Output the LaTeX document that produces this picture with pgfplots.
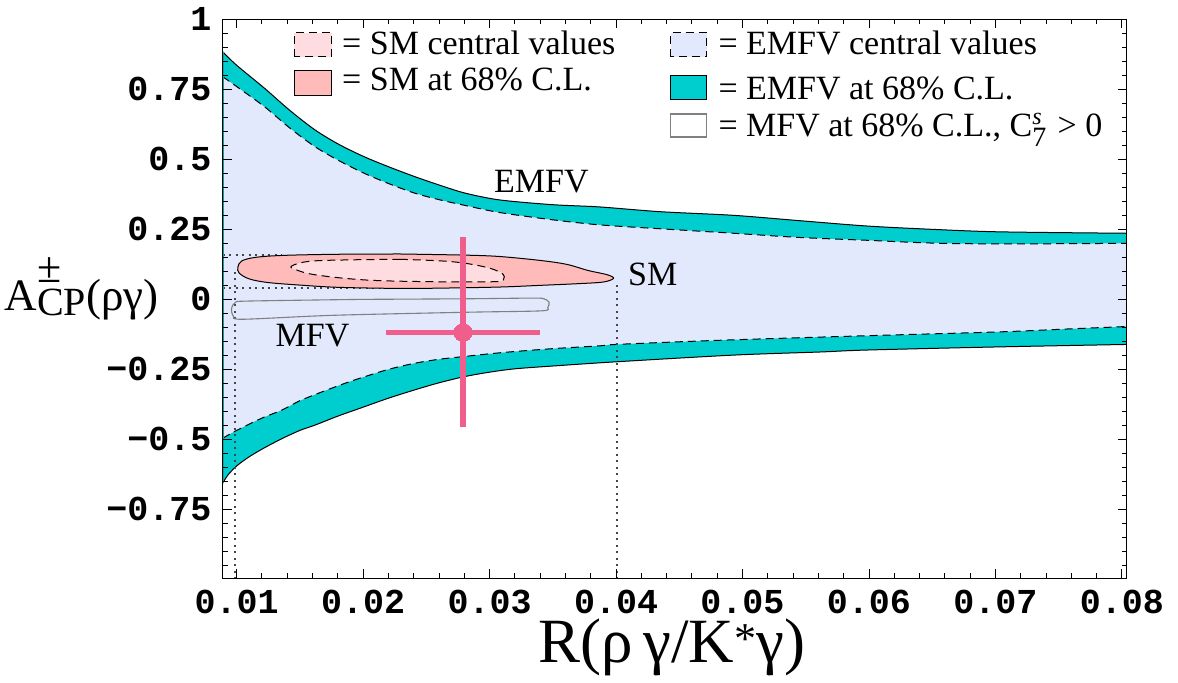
\documentclass[border=0pt]{standalone}
\usepackage{fontspec}
\setmainfont{Liberation Serif}
\newfontfamily\tickfont{Liberation Mono}
\usepackage{pgfplots}
\pgfplotsset{compat=1.18}
\usepgfplotslibrary{fillbetween}
\definecolor{emfvblue}{RGB}{227,233,252}
\definecolor{emfvteal}{RGB}{0,206,206}
\definecolor{edgeteal}{RGB}{0,165,165}
\definecolor{smpink}{RGB}{255,186,186}
\definecolor{smlight}{RGB}{255,220,223}
\definecolor{ptpink}{RGB}{240,94,140}
\definecolor{dotgray}{RGB}{70,70,70}
\newcommand\lf{\fontsize{34bp}{40bp}\selectfont}
\tikzset{mydash/.style={dash pattern=on 8bp off 5bp}, mydot/.style={dotgray, line width=2bp, dash pattern=on 2bp off 4.5bp}}
\begin{document}
\begin{tikzpicture}
\begin{axis}[
  width=904bp, height=559bp, scale only axis,
  at={(0,0)}, anchor=south west,
  xmin=0.0089, xmax=0.08038, ymin=-0.996, ymax=1,
  scaled x ticks=false, scaled y ticks=false,
  xtick={0.01,0.02,0.03,0.04,0.05,0.06,0.07,0.08},
  xticklabels={0.01,0.02,0.03,0.04,0.05,0.06,0.07,0.08},
  minor xtick={0.012,0.014,0.016,0.018,0.022,0.024,0.026,0.028,0.032,0.034,0.036,0.038,0.042,0.044,0.046,0.048,0.052,0.054,0.056,0.058,0.062,0.064,0.066,0.068,0.072,0.074,0.076,0.078},
  ytick={-0.75,-0.5,-0.25,0,0.25,0.5,0.75,1},
  yticklabels={−0.75,−0.5,−0.25,0,0.25,0.5,0.75,1},
  minor ytick={-0.95,-0.9,-0.85,-0.8,-0.7,-0.65,-0.6,-0.55,-0.45,-0.4,-0.35,-0.3,-0.2,-0.15,-0.1,-0.05,0.05,0.1,0.15,0.2,0.3,0.35,0.4,0.45,0.55,0.6,0.65,0.7,0.8,0.85,0.9,0.95},
  tick align=inside,
  major tick length=9bp, minor tick length=5bp,
  every tick/.style={black, line width=0.9bp},
  axis line style={line width=1.1bp, black},
  axis on top,
  xticklabel style={font=\tickfont\bfseries\fontsize{35bp}{40bp}\selectfont, inner sep=0pt, yshift=-12bp},
  yticklabel style={font=\tickfont\bfseries\fontsize{35bp}{40bp}\selectfont, inner sep=0pt, xshift=-11bp},
  xlabel={R(ρ\,γ/K\textsuperscript{*}γ)},
  xlabel style={font=\fontsize{63bp}{68bp}\selectfont, at={(axis description cs:0.497,-0.123)}, anchor=center},
  ylabel={A\rlap{\raisebox{28bp}{\fontsize{44bp}{44bp}\selectfont ±}}\raisebox{-5bp}{\fontsize{40bp}{40bp}\selectfont CP}(ργ)},
  ylabel style={rotate=-90, font=\fontsize{45bp}{50bp}\selectfont, at={(axis description cs:-0.156,0.518)}, anchor=center},
]
% upper solid (EMFV 68% outer)
\addplot[name path=US, black, line width=1bp, smooth] coordinates {
(0.0089,0.884) (0.0100,0.836) (0.0122,0.754) (0.0142,0.675) (0.0162,0.605)
(0.0181,0.553) (0.0201,0.509) (0.0221,0.472) (0.0241,0.438) (0.0261,0.407)
(0.0281,0.379) (0.0308,0.355) (0.0350,0.338) (0.0387,0.330) (0.0435,0.313)
(0.0493,0.300) (0.0545,0.281) (0.0598,0.262) (0.0650,0.250) (0.0704,0.241) (0.08038,0.236)};
% upper dashed (EMFV central)
\addplot[name path=UD, black, line width=1bp, mydash, smooth] coordinates {
(0.0089,0.795) (0.0100,0.760) (0.0122,0.688) (0.0142,0.612) (0.0162,0.545)
(0.0181,0.495) (0.0201,0.450) (0.0221,0.412) (0.0241,0.379) (0.0261,0.355)
(0.0281,0.335) (0.0308,0.310) (0.0350,0.284) (0.0387,0.266) (0.0435,0.252)
(0.0493,0.236) (0.0545,0.221) (0.0598,0.211) (0.0650,0.201) (0.0704,0.198) (0.08038,0.200)};
% lower dashed (EMFV central)
\addplot[name path=LD, black, line width=1bp, mydash, smooth] coordinates {
(0.0089,-0.496) (0.0100,-0.468) (0.0120,-0.424) (0.0136,-0.395) (0.0150,-0.362)
(0.0170,-0.326) (0.0188,-0.296) (0.0200,-0.278) (0.0220,-0.250) (0.0241,-0.228)
(0.0260,-0.214) (0.0280,-0.204) (0.0310,-0.190) (0.0350,-0.176) (0.0387,-0.166)
(0.0400,-0.161) (0.0470,-0.148) (0.0545,-0.137) (0.0620,-0.127) (0.0704,-0.116)
(0.0761,-0.105) (0.08038,-0.097)};
% lower solid (EMFV 68% outer)
\addplot[name path=LS, black, line width=1bp, smooth] coordinates {
(0.0089,-0.657) (0.0093,-0.628) (0.0100,-0.595) (0.0110,-0.562) (0.0122,-0.530)
(0.0136,-0.497) (0.0150,-0.468) (0.0162,-0.449) (0.0180,-0.417) (0.0200,-0.385)
(0.0220,-0.353) (0.0241,-0.323) (0.0260,-0.298) (0.0280,-0.276) (0.0300,-0.260)
(0.0320,-0.248) (0.0350,-0.238) (0.0400,-0.223) (0.0493,-0.199) (0.0561,-0.188)
(0.0598,-0.181) (0.0700,-0.170) (0.08038,-0.161)};
\addplot[emfvblue] fill between[of=UD and LD];
\addplot[emfvteal] fill between[of=US and UD];
\addplot[emfvteal] fill between[of=LD and LS];
% dotted projection lines
\addplot[mydot] coordinates {(0.0099,-1) (0.0099,0.11)};
\addplot[mydot] coordinates {(0.0401,-1) (0.0401,0.058)};
\addplot[mydot] coordinates {(0.0089,0.159) (0.0136,0.159)};
\addplot[mydot] coordinates {(0.0089,0.041) (0.0226,0.041)};
% SM at 68% CL
\addplot[fill=smpink, draw=black, line width=1bp, smooth, tension=0.55] coordinates {
(0.0229,0.162) (0.0280,0.158) (0.0308,0.153) (0.0340,0.139) (0.0361,0.125)
(0.0378,0.103) (0.0393,0.088) (0.0398,0.075) (0.0390,0.062) (0.0370,0.056)
(0.0340,0.050) (0.0308,0.044) (0.0260,0.040) (0.0229,0.039) (0.0180,0.043)
(0.0150,0.051) (0.0125,0.060) (0.0110,0.073) (0.0102,0.094) (0.0101,0.115)
(0.0104,0.137) (0.0115,0.150) (0.0137,0.157) (0.0180,0.161) (0.0229,0.162)};
% SM central values
\addplot[fill=smlight, draw=black, line width=1bp, mydash, smooth, tension=0.6] coordinates {
(0.0229,0.143) (0.0269,0.135) (0.0295,0.117) (0.03095,0.094) (0.0311,0.070)
(0.0303,0.063) (0.02555,0.063) (0.02028,0.069) (0.01632,0.087) (0.01474,0.105)
(0.01435,0.119) (0.01579,0.136) (0.01896,0.141) (0.0229,0.143)};
% MFV at 68% CL
\addplot[draw=gray, line width=1.1bp, smooth, tension=0.5] coordinates {
(0.0200,0.000) (0.0280,0.002) (0.0334,0.0045) (0.0343,0.002) (0.0347,-0.010)
(0.0346,-0.030) (0.0341,-0.041) (0.0282,-0.046) (0.0176,-0.057) (0.0105,-0.071)
(0.00975,-0.060) (0.0096,-0.033) (0.0099,-0.011) (0.0110,-0.006) (0.0200,0.000)};
% experimental point
\addplot[ptpink, mark=*, mark size=9bp, mark options={solid, fill=ptpink, draw=ptpink, line width=0pt},
  error bars/.cd, x dir=both, x explicit, y dir=both, y explicit, error mark=none,
  error bar style={line width=5.5bp, ptpink}]
  coordinates {(0.0279,-0.118) +- (0.00605,0.339)};
\node[font=\lf] at (axis cs:0.0341,0.419) {EMFV};
\node[font=\lf] at (axis cs:0.0429,0.089) {SM};
\node[font=\lf] at (axis cs:0.0160,-0.131) {MFV};
\end{axis}
\draw[edgeteal, line width=1.6bp] (0,95bp) -- (0,526.6bp);
% legend
\draw[black, line width=1bp, mydash, fill=smlight] (71.3bp,521.6bp) rectangle (109bp,545.6bp);
\draw[black, line width=1bp, fill=smpink] (71.3bp,482.6bp) rectangle (109bp,507.6bp);
\node[font=\lf, anchor=base west, inner sep=0pt] at (119.3bp,523.3bp) {= SM central values};
\node[font=\lf, anchor=base west, inner sep=0pt] at (119.3bp,487.6bp) {= SM at 68\% C.L.};
\draw[black, line width=1bp, mydash, fill=emfvblue] (448bp,521.3bp) rectangle (484bp,545.3bp);
\draw[black, line width=1bp, fill=emfvteal] (448bp,478.3bp) rectangle (484bp,502.3bp);
\draw[gray, line width=1.1bp, fill=white] (448bp,441.3bp) rectangle (484bp,464.3bp);
\node[font=\lf, anchor=base west, inner sep=0pt] at (495.6bp,523.3bp) {= EMFV central values};
\node[font=\lf, anchor=base west, inner sep=0pt] at (495.6bp,479bp) {= EMFV at 68\% C.L.};
\node[font=\lf, anchor=base west, inner sep=0pt] at (495.6bp,441.6bp) {= MFV at 68\% C.L., C\rlap{\raisebox{12bp}{\fontsize{24bp}{24bp}\selectfont\itshape s}}\raisebox{-10bp}{\fontsize{28bp}{28bp}\selectfont 7}\,\,> 0};
\pgfresetboundingbox
\path[use as bounding box] (-222.7bp,-104.7bp) rectangle (955.3bp,578.3bp);
\end{tikzpicture}
\end{document}
